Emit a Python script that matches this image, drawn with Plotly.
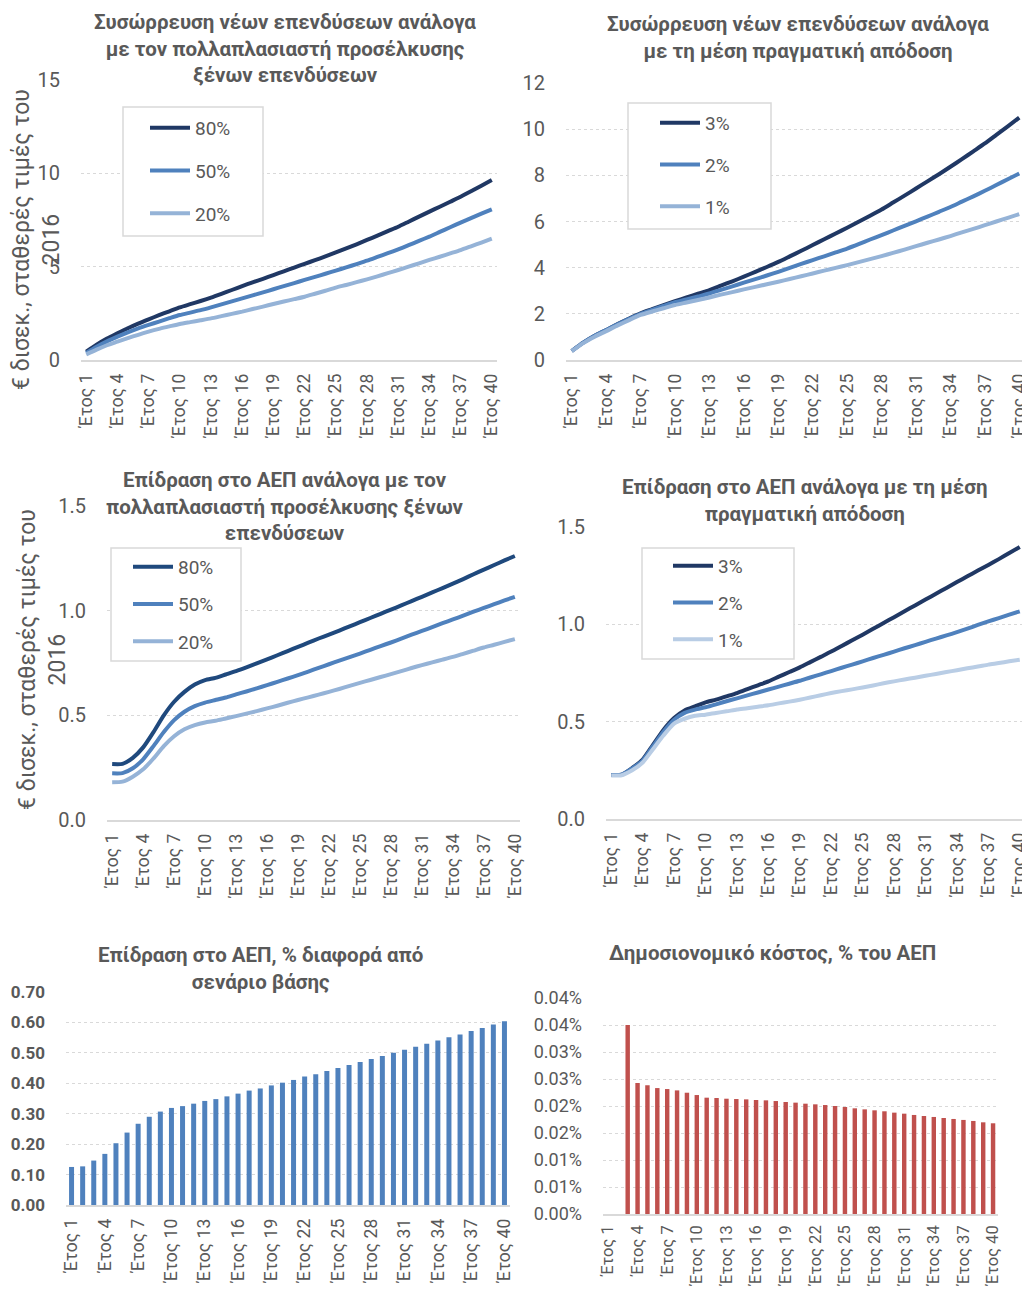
import plotly.graph_objects as go

# ---------------- data ----------------
years = [f"Έτος {i}" for i in range(1, 41)]
tick_years = [years[i] for i in range(0, 40, 3)]

# Top-left: accumulation by multiplier (bn €, 2016 prices)
acc_mult_80 = [0.45, 0.82, 1.15, 1.43, 1.70, 1.95, 2.18, 2.40, 2.61, 2.82, 2.99, 3.16, 3.34, 3.54, 3.75, 3.96, 4.16, 4.35, 4.55, 4.75,
               4.95, 5.15, 5.35, 5.55, 5.76, 5.98, 6.20, 6.43, 6.66, 6.90, 7.14, 7.41, 7.68, 7.95, 8.21, 8.48, 8.75, 9.04, 9.34, 9.64]
acc_mult_50 = [0.38, 0.71, 1.00, 1.25, 1.48, 1.69, 1.88, 2.06, 2.24, 2.41, 2.54, 2.67, 2.82, 2.98, 3.14, 3.30, 3.46, 3.62, 3.79, 3.96,
               4.12, 4.29, 4.45, 4.62, 4.79, 4.96, 5.14, 5.32, 5.52, 5.72, 5.93, 6.15, 6.38, 6.61, 6.86, 7.11, 7.36, 7.60, 7.84, 8.07]
acc_mult_20 = [0.30, 0.56, 0.79, 0.98, 1.17, 1.35, 1.52, 1.67, 1.80, 1.93, 2.03, 2.13, 2.23, 2.35, 2.47, 2.59, 2.73, 2.86, 3.00, 3.13,
               3.26, 3.39, 3.55, 3.71, 3.88, 4.02, 4.17, 4.32, 4.48, 4.65, 4.82, 5.00, 5.18, 5.36, 5.53, 5.71, 5.89, 6.09, 6.29, 6.50]

# Top-right: accumulation by average real return
acc_ret_3 = [0.39, 0.75, 1.05, 1.30, 1.56, 1.80, 2.02, 2.20, 2.38, 2.55, 2.71, 2.87, 3.03, 3.22, 3.41, 3.61, 3.82, 4.03, 4.25, 4.49,
             4.73, 4.98, 5.23, 5.48, 5.73, 5.99, 6.25, 6.52, 6.82, 7.12, 7.43, 7.74, 8.05, 8.37, 8.70, 9.04, 9.38, 9.75, 10.12, 10.50]
acc_ret_2 = [0.39, 0.75, 1.05, 1.30, 1.55, 1.78, 2.00, 2.17, 2.34, 2.50, 2.62, 2.75, 2.88, 3.04, 3.19, 3.35, 3.50, 3.66, 3.82, 3.99,
             4.16, 4.33, 4.49, 4.66, 4.83, 5.02, 5.22, 5.41, 5.61, 5.81, 6.01, 6.21, 6.42, 6.63, 6.86, 7.09, 7.33, 7.58, 7.83, 8.08]
acc_ret_1 = [0.38, 0.73, 1.01, 1.25, 1.50, 1.73, 1.95, 2.10, 2.24, 2.38, 2.49, 2.60, 2.71, 2.83, 2.94, 3.06, 3.17, 3.28, 3.39, 3.51,
             3.63, 3.75, 3.87, 3.99, 4.11, 4.24, 4.37, 4.50, 4.64, 4.78, 4.93, 5.08, 5.22, 5.37, 5.53, 5.68, 5.84, 6.00, 6.16, 6.32]

# Middle-left: GDP effect by multiplier
gdp_mult_80 = [0.267, 0.268, 0.297, 0.347, 0.420, 0.500, 0.565, 0.612, 0.647, 0.668, 0.679, 0.695, 0.711, 0.729, 0.748, 0.767, 0.787, 0.807, 0.827, 0.847,
               0.867, 0.886, 0.905, 0.925, 0.945, 0.965, 0.985, 1.005, 1.025, 1.046, 1.066, 1.087, 1.108, 1.129, 1.151, 1.174, 1.196, 1.218, 1.240, 1.261]
gdp_mult_50 = [0.223, 0.224, 0.247, 0.290, 0.353, 0.420, 0.477, 0.517, 0.544, 0.561, 0.573, 0.585, 0.600, 0.614, 0.629, 0.644, 0.660, 0.676, 0.692, 0.709,
               0.727, 0.744, 0.761, 0.778, 0.795, 0.813, 0.831, 0.848, 0.866, 0.885, 0.903, 0.921, 0.940, 0.958, 0.976, 0.995, 1.013, 1.031, 1.049, 1.066]
gdp_mult_20 = [0.180, 0.183, 0.207, 0.242, 0.294, 0.353, 0.400, 0.433, 0.453, 0.466, 0.474, 0.485, 0.496, 0.508, 0.520, 0.533, 0.546, 0.560, 0.573, 0.586,
               0.599, 0.612, 0.626, 0.641, 0.655, 0.669, 0.683, 0.697, 0.711, 0.726, 0.740, 0.753, 0.766, 0.779, 0.794, 0.809, 0.824, 0.837, 0.851, 0.864]

# Middle-right: GDP effect by average real return
gdp_ret_3 = [0.226, 0.228, 0.262, 0.305, 0.382, 0.459, 0.519, 0.558, 0.579, 0.599, 0.613, 0.630, 0.647, 0.667, 0.687, 0.707, 0.731, 0.755, 0.779, 0.806,
             0.833, 0.860, 0.889, 0.918, 0.947, 0.977, 1.007, 1.037, 1.067, 1.097, 1.127, 1.157, 1.187, 1.217, 1.247, 1.276, 1.305, 1.335, 1.366, 1.397]
gdp_ret_2 = [0.226, 0.228, 0.260, 0.300, 0.375, 0.450, 0.510, 0.545, 0.562, 0.574, 0.589, 0.605, 0.620, 0.635, 0.650, 0.665, 0.680, 0.695, 0.710, 0.727,
             0.743, 0.760, 0.777, 0.793, 0.810, 0.827, 0.843, 0.860, 0.877, 0.893, 0.910, 0.927, 0.943, 0.960, 0.978, 0.997, 1.015, 1.032, 1.050, 1.067]
gdp_ret_1 = [0.223, 0.225, 0.250, 0.290, 0.360, 0.430, 0.490, 0.515, 0.530, 0.536, 0.545, 0.553, 0.562, 0.569, 0.577, 0.584, 0.594, 0.603, 0.613, 0.624,
             0.636, 0.647, 0.657, 0.666, 0.676, 0.686, 0.697, 0.707, 0.717, 0.726, 0.736, 0.745, 0.755, 0.764, 0.774, 0.783, 0.793, 0.801, 0.810, 0.818]

# Bottom-left: GDP effect, % difference from baseline
gdp_pct_diff = [0.125, 0.127, 0.146, 0.168, 0.203, 0.238, 0.267, 0.290, 0.307, 0.319, 0.325, 0.333, 0.342, 0.348, 0.357, 0.366, 0.376, 0.383, 0.393, 0.402,
                0.411, 0.422, 0.430, 0.440, 0.450, 0.460, 0.470, 0.480, 0.490, 0.500, 0.510, 0.520, 0.530, 0.541, 0.551, 0.560, 0.572, 0.582, 0.593, 0.604]

# Bottom-right: fiscal cost, % of GDP
fiscal_cost = [None, None, 0.0350, 0.02425, 0.02382, 0.02332, 0.02314, 0.02289, 0.02246, 0.02203, 0.02154, 0.02148, 0.02135, 0.02129, 0.02123, 0.02111,
               0.02105, 0.02092, 0.02074, 0.02062, 0.02043, 0.02031, 0.02018, 0.02000, 0.01982, 0.01957, 0.01938, 0.01920, 0.01902, 0.01877,
               0.01858, 0.01834, 0.01815, 0.01797, 0.01778, 0.01760, 0.01742, 0.01723, 0.01698, 0.01680]
fiscal_ticks = [0, 0.005, 0.010, 0.015, 0.020, 0.025, 0.030, 0.035, 0.040]
fiscal_ticktext = ["0.00%", "0.01%", "0.01%", "0.02%", "0.02%", "0.03%", "0.03%", "0.04%", "0.04%"]

# ---------------- styling ----------------
FONT = "Roboto"
GRAY = "#595959"
GRID = "#D9D9D9"
DARK = "#203864"
DARK2 = "#1F497D"
MID = "#4F81BD"
LIGHT = "#95B3D7"
LIGHTER = "#B9CDE5"
OFF = 8                      # page body margin of the html page
W, H = 1030 - OFF, 1289 - OFF

def px(x):
    return (x - OFF) / W

def py(y):
    return 1 - (y - OFF) / H

fig = go.Figure()

def add_line(y, name, color, xa, ya, legend):
    fig.add_trace(go.Scatter(
        x=years, y=y, name=name, mode="lines",
        line=dict(color=color, width=4, shape="spline", smoothing=0.6),
        xaxis=xa, yaxis=ya, legend=legend, legendgroup=legend + name,
        hoverinfo="skip"))

add_line(acc_mult_80, "80%", DARK, "x", "y", "legend")
add_line(acc_mult_50, "50%", MID, "x", "y", "legend")
add_line(acc_mult_20, "20%", LIGHT, "x", "y", "legend")

add_line(acc_ret_3, "3%", DARK, "x2", "y2", "legend2")
add_line(acc_ret_2, "2%", MID, "x2", "y2", "legend2")
add_line(acc_ret_1, "1%", LIGHT, "x2", "y2", "legend2")

add_line(gdp_mult_80, "80%", DARK2, "x3", "y3", "legend3")
add_line(gdp_mult_50, "50%", MID, "x3", "y3", "legend3")
add_line(gdp_mult_20, "20%", LIGHT, "x3", "y3", "legend3")

add_line(gdp_ret_3, "3%", DARK, "x4", "y4", "legend4")
add_line(gdp_ret_2, "2%", MID, "x4", "y4", "legend4")
add_line(gdp_ret_1, "1%", LIGHTER, "x4", "y4", "legend4")

fig.add_trace(go.Bar(x=years, y=gdp_pct_diff, marker=dict(color=MID, line=dict(width=0)),
                     xaxis="x5", yaxis="y5", showlegend=False, hoverinfo="skip"))
fig.add_trace(go.Bar(x=years, y=fiscal_cost, marker=dict(color="#C0504D", line=dict(width=0)),
                     xaxis="x6", yaxis="y6", showlegend=False, hoverinfo="skip"))

# axes domains in (reference) pixel coordinates
panels = {
    1: dict(x=(81, 497), y=(80, 360), rng=[0, 15], dt=5, fmt=None, bold=False),
    2: dict(x=(566, 1025), y=(83, 360), rng=[0, 12], dt=2, fmt=None, bold=False),
    3: dict(x=(107, 520), y=(506, 820), rng=[0, 1.5], dt=0.5, fmt=".1f", bold=False),
    4: dict(x=(606, 1025), y=(527, 819), rng=[0, 1.5], dt=0.5, fmt=".1f", bold=False),
    5: dict(x=(66, 510), y=(992, 1205), rng=[0, 0.7], dt=0.1, fmt=".2f", bold=True),
    6: dict(x=(603, 998), y=(998, 1214), rng=[0, 0.04], dt=None, fmt=None, bold=False),
}

layout = {}
for i, p in panels.items():
    sfx = "" if i == 1 else str(i)
    xa = dict(domain=[px(p["x"][0]), px(p["x"][1])], anchor="y" + sfx, type="category",
              tickmode="array", tickvals=tick_years, ticktext=tick_years, tickangle=-90,
              tickfont=dict(family=FONT, size=(16.5 if i == 6 else 17.5), color=GRAY), showgrid=False,
              showline=True, linecolor=GRID, linewidth=1.5, ticks="",
              ticklabelstandoff=(3 if i == 6 else 5),
              range=[-0.5, 39.5], fixedrange=True, automargin=False)
    ya = dict(domain=[py(p["y"][1]), py(p["y"][0])], anchor="x" + sfx, range=p["rng"],
              showgrid=True, gridcolor=GRID, griddash="dot", gridwidth=1.2,
              zeroline=False, showline=False, ticks="", ticklabelstandoff=20,
              tickfont=dict(family=FONT, size=(17 if i >= 5 else 20), color=GRAY,
                            weight=("bold" if p["bold"] else "normal")),
              fixedrange=True, automargin=False)
    if p["dt"] is not None:
        ya["dtick"] = p["dt"]
        ya["tick0"] = 0
    if p["fmt"]:
        ya["tickformat"] = p["fmt"]
    if i == 6:
        ya["tickmode"] = "array"
        ya["tickvals"] = fiscal_ticks
        ya["ticktext"] = fiscal_ticktext
        ya["tickfont"]["size"] = 18
    layout["xaxis" + sfx] = xa
    layout["yaxis" + sfx] = ya

TITLE_FONT = dict(family=FONT, size=20.5, color=GRAY, weight="bold")
titles = [
    ("Συσώρρευση νέων επενδύσεων ανάλογα<br>με τον πολλαπλασιαστή προσέλκυσης<br>ξένων επενδύσεων", 285, 48),
    ("Συσώρρευση νέων επενδύσεων ανάλογα<br>με τη μέση πραγματική απόδοση", 798, 37),
    ("Επίδραση στο ΑΕΠ ανάλογα με τον<br>πολλαπλασιαστή προσέλκυσης ξένων<br>επενδύσεων", 285, 506),
    ("Επίδραση στο ΑΕΠ ανάλογα με τη μέση<br>πραγματική απόδοση", 805, 500),
    ("Επίδραση στο ΑΕΠ, % διαφορά από<br>σενάριο βάσης", 260, 968),
    ("Δημοσιονομικό κόστος, % του ΑΕΠ", 772, 953),
]
annotations = []
for text, cx, cy in titles:
    annotations.append(dict(text=text, x=px(cx), y=py(cy), xref="paper", yref="paper",
                            xanchor="center", yanchor="middle", showarrow=False,
                            font=TITLE_FONT, align="center"))
for cx, cy in [(37, 240), (42, 660)]:
    annotations.append(dict(text="€ δισεκ., σταθερές τιμές του<br>2016", x=px(cx), y=py(cy),
                            xref="paper", yref="paper", xanchor="center", yanchor="middle",
                            showarrow=False, textangle=-90, align="center",
                            font=dict(family=FONT, size=23, color=GRAY)))

# legend boxes (frames) and legends
boxes = [(123, 107, 263, 236), (628, 103, 771, 229), (111, 548, 241, 661), (642, 548, 794, 659)]
shapes = []
for x0, y0, x1, y1 in boxes:
    shapes.append(dict(type="rect", xref="paper", yref="paper", x0=px(x0), x1=px(x1),
                       y0=py(y1), y1=py(y0), line=dict(color=GRID, width=1.5),
                       fillcolor="white", layer="above"))

def legend_cfg(x, y, gap):
    return dict(x=px(x), y=py(y), xanchor="left", yanchor="top", bgcolor="rgba(0,0,0,0)",
                borderwidth=0, font=dict(family=FONT, size=19, color=GRAY),
                tracegroupgap=gap, traceorder="grouped", itemwidth=40)

layout["legend"] = legend_cfg(145, 109, 15)
layout["legend2"] = legend_cfg(655, 104, 14)
layout["legend3"] = legend_cfg(128, 548, 9.5)
layout["legend4"] = legend_cfg(668, 547, 9)

fig.update_layout(**layout)
fig.update_layout(width=W, height=H, margin=dict(l=0, r=0, t=0, b=0, pad=0, autoexpand=False),
                  paper_bgcolor="white", plot_bgcolor="white",
                  annotations=annotations, shapes=shapes, bargap=0.55,
                  font=dict(family=FONT, color=GRAY), hovermode=False)

fig.write_html("out.html")
